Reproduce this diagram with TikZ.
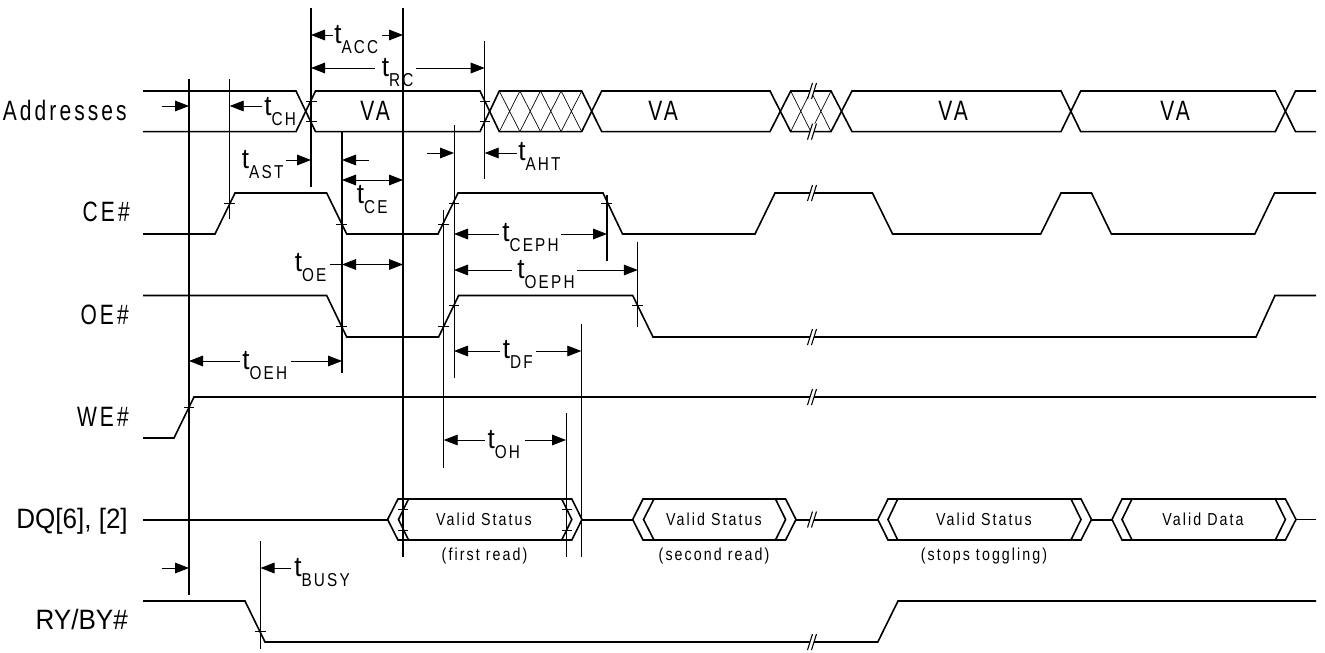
\documentclass[tikz,border=0pt]{standalone}
\usepackage{fontspec}
\usepackage{tikz}
\usetikzlibrary{arrows.meta}
\setmainfont{Liberation Sans}
\newfontfamily\sigfont[LetterSpace=11,FakeStretch=0.75]{Liberation Sans}
\newfontfamily\subfont[LetterSpace=12,FakeStretch=0.82]{Liberation Sans}
\newfontfamily\tightfont[FakeStretch=0.93]{Liberation Sans}
\newcommand{\tname}[1]{{\tightfont\fontsize{21}{23}\selectfont t}\raisebox{-7.5pt}{\subfont\fontsize{14}{15}\selectfont #1}}
\newcommand{\sigbreak}[2]{%
  \fill[white] (#1-3.5,#2+8) -- (#1+1.5,#2-8) -- (#1+5.5,#2-8) -- (#1+0.5,#2+8) -- cycle;
  \draw[thinline] (#1-3.5,#2+8) -- (#1+1.5,#2-8) (#1+0.5,#2+8) -- (#1+5.5,#2-8);}
\tikzset{
  wave/.style={line width=1.2pt,line join=miter},
  hatch/.style={line width=0.5pt},
  thinline/.style={line width=0.8pt},
  midline/.style={line width=1pt},
  heavyline/.style={line width=1.5pt},
  tickmark/.style={line width=0.5pt},
  stub/.style={line width=0.65pt,-{Triangle[length=10.5pt,width=8pt]}},
  timing/.style={anchor=base west,inner sep=0pt},
  signal/.style={anchor=base east,inner sep=0pt,font=\sigfont\fontsize{21}{23}\selectfont},
  busname/.style={anchor=base east,inner sep=0pt,font=\tightfont\fontsize{21}{23}\selectfont},
  datatext/.style={anchor=base,inner sep=0pt,font=\subfont\fontsize{13}{15}\selectfont},
  notetext/.style={anchor=base,inner sep=0pt,font=\subfont\fontsize{13}{14}\selectfont},
  buslabel/.style={anchor=base west,inner sep=0pt,font=\sigfont\fontsize{21}{23}\selectfont},
}
\begin{document}
\begin{tikzpicture}[x=0.75pt,y=0.75pt,yscale=-1,xscale=1]
\path[use as bounding box] (0,0) rectangle (1325,653);

%Addresses bus
\draw[wave] (143,91) -- (296,91) -- (315.5,131.6) -- (480,131.6) -- (499.3,91) -- (581.7,91) -- (601.7,131.6) -- (770,131.6) -- (790.7,91) -- (831,91) -- (852,131.6) -- (1061,131.6) -- (1080.7,91) -- (1275.3,91) -- (1295.5,131.6) -- (1316,131.6);
\draw[wave] (143,131.6) -- (296,131.6) -- (315.5,91) -- (480,91) -- (499.3,131.6) -- (581.7,131.6) -- (601.7,91) -- (770,91) -- (790.7,131.6) -- (831,131.6) -- (852,91) -- (1061,91) -- (1080.7,131.6) -- (1275.3,131.6) -- (1295.5,91) -- (1316,91);
\foreach \x in {499.3,519.9,540.5,561.1}
  \draw[hatch] (\x,91) -- (\x+20.6,131.6) (\x,131.6) -- (\x+20.6,91);
\foreach \x in {790.7,810.85}
  \draw[hatch] (\x,91) -- (\x+20.15,131.6) (\x,131.6) -- (\x+20.15,91);

%CE#
\draw[wave] (143,234) -- (215,234) -- (235,193) -- (326.7,193) -- (346.7,234) -- (438,234) -- (458,193) -- (603,193) -- (622.5,234) -- (755,234) -- (775,193) -- (872.4,193) -- (892.6,234) -- (1040.7,234) -- (1061,193) -- (1091.5,193) -- (1111.4,234) -- (1254.8,234) -- (1274.6,193) -- (1316,193);
%OE#
\draw[wave] (143,295.5) -- (326.7,295.5) -- (346.7,337) -- (438.6,337) -- (458.6,295.5) -- (632.7,295.5) -- (653,337) -- (1256,337) -- (1275,295.5) -- (1316,295.5);
%WE#
\draw[wave] (143,438) -- (174,438) -- (194,397) -- (1316,397);
%DQ[6], [2]
\draw[heavyline] (143,519.5) -- (387.6,519.5) (582,519.5) -- (632.7,519.5) (796,519.5) -- (877.8,519.5) (1091.5,519.5) -- (1112,519.5);
\draw[wave] (1296,519.5) -- (1316,519.5);
\draw[wave] (387.6,519.5) -- (398,499) -- (571.8,499) -- (582,519.5) (632.7,519.5) -- (643,499) -- (785.6,499) -- (796,519.5) (877.8,519.5) -- (888,499) -- (1081,499) -- (1091.5,519.5) (1112,519.5) -- (1122,499) -- (1285.4,499) -- (1296,519.5);
\draw[wave] (387.6,519.5) -- (398,540) -- (571.8,540) -- (582,519.5) (632.7,519.5) -- (643,540) -- (785.6,540) -- (796,519.5) (877.8,519.5) -- (888,540) -- (1081,540) -- (1091.5,519.5) (1112,519.5) -- (1122,540) -- (1285.4,540) -- (1296,519.5);
\draw[wave] (408.5,499) -- (398.5,519.5) -- (408.5,540) (561.7,499) -- (571.8,519.5) -- (561.7,540);
\draw[wave] (654,499) -- (643.5,519.5) -- (654,540) (775.5,499) -- (785.6,519.5) -- (775.5,540);
\draw[wave] (897.7,499) -- (888,519.5) -- (897.7,540) (1071,499) -- (1081,519.5) -- (1071,540);
\draw[wave] (1132,499) -- (1122,519.5) -- (1132,540) (1275.3,499) -- (1285.4,519.5) -- (1275.3,540);
%RY/BY#
\draw[wave] (143,601) -- (245,601) -- (265,642) -- (877.8,642) -- (898,601) -- (1316,601);

%Breaks
\sigbreak{811}{91}
\sigbreak{811}{131.6}
\sigbreak{811}{193}
\sigbreak{811}{337}
\sigbreak{811}{397}
\sigbreak{811}{519.5}
\sigbreak{811}{642}

%Reference lines
\draw[heavyline] (189,79) -- (189,595);
\draw[thinline] (229.7,79) -- (229.7,219);
\draw[midline] (311,8) -- (311,187);
\draw[heavyline] (403,8) -- (403,556.7);
\draw[thinline] (484.7,41) -- (484.7,179);
\draw[thinline] (454.4,125) -- (454.4,378);
\draw[heavyline] (342,132) -- (342,373);
\draw[thinline] (443.7,210) -- (443.7,467.7);
\draw[heavyline] (607,195) -- (607,260.7);
\draw[thinline] (637.8,242) -- (637.8,327);
\draw[thinline] (581.3,324) -- (581.3,556.7);
\draw[thinline] (566.4,413) -- (566.4,556.7);
\draw[thinline] (260.5,541) -- (260.5,649);

%Crossing ticks
\draw[tickmark] (306,101) -- (317,101) (306,121) -- (317,121) (480,101) -- (490,101) (480,121) -- (490,121);
\draw[tickmark] (224,203) -- (235,203) (336,224) -- (347,224) (438,224) -- (449,224) (449,203) -- (459,203) (601,203) -- (612,203);
\draw[tickmark] (336,326) -- (347,326) (438,326) -- (449,326) (449,305.5) -- (459,305.5) (632,305.5) -- (643,305.5) (184,407) -- (194,407);
\draw[tickmark] (398,509) -- (408,509) (398,530) -- (408,530) (562,509) -- (572,509) (562,530) -- (572,530) (255,631.5) -- (266,631.5);

%Timing arrows
\draw[stub] (162,106) -- (189,106);
\draw[stub] (262,106) -- (229.7,106);
\draw[stub] (333,35) -- (311,35);
\draw[stub] (382,35) -- (403,35);
\draw[stub] (375,68) -- (311,68);
\draw[stub] (416,68) -- (484.7,68);
\draw[stub] (286,160) -- (311,160);
\draw[stub] (369,160) -- (342,160);
\draw[stub] (427,153) -- (454,153);
\draw[stub] (517,153) -- (484.7,153);
\draw[stub] (372,180) -- (342,180);
\draw[stub] (372,180) -- (403,180);
\draw[thinline] (330,264.5) -- (342,264.5);
\draw[stub] (372,264.5) -- (342,264.5);
\draw[stub] (372,264.5) -- (403,264.5);
\draw[stub] (498.5,234) -- (454,234);
\draw[stub] (561,234) -- (607,234);
\draw[stub] (512,270) -- (454,270);
\draw[stub] (577,270) -- (637.8,270);
\draw[stub] (500,351) -- (454,351);
\draw[stub] (535.7,351) -- (581.3,351);
\draw[stub] (240,361) -- (189,361);
\draw[stub] (291,361) -- (342,361);
\draw[stub] (485,440) -- (443.7,440);
\draw[stub] (525,440) -- (566,440);
\draw[stub] (162,568) -- (189,568);
\draw[stub] (291,568) -- (260.5,568);

% Timing labels
\node[timing] (tACC) at (334,43) {\tname{ACC}};
\node[timing] (tRC) at (381.7,76) {\tname{RC}};
\node[timing] (tCH) at (264,115) {\tname{CH}};
\node[timing] (tAST) at (241.7,168) {\tname{AST}};
\node[timing] (tCE) at (356.7,203) {\tname{CE}};
\node[timing] (tAHT) at (518,160) {\tname{AHT}};
\node[timing] (tOE) at (294.6,271.7) {\tname{OE}};
\node[timing] (tCEPH) at (502,241.7) {\tname{CEPH}};
\node[timing] (tOEPH) at (517,278) {\tname{OEPH}};
\node[timing] (tDF) at (502.5,358) {\tname{DF}};
\node[timing] (tOEH) at (242,369) {\tname{OEH}};
\node[timing] (tOH) at (487.3,448) {\tname{OH}};
\node[timing] (tBUSY) at (294,576) {\tname{BUSY}};

% Signal names
\node[signal] (addr) at (127,120) {Addresses};
\node[signal] (ce) at (130,221.7) {CE\#};
\node[signal] (oe) at (129,324) {OE\#};
\node[signal] (we) at (129,426) {WE\#};
\node[busname] (dq) at (128,528) {DQ[6], [2]};
\node[busname] (ry) at (128,629) {RY/BY\#};

% Bus values
\node[buslabel] (va1) at (360,120) {VA};
\node[buslabel] (va2) at (648,120) {VA};
\node[buslabel] (va3) at (938,120) {VA};
\node[buslabel] (va4) at (1160,120) {VA};
\node[datatext] (vs1) at (484,525) {Valid Status};
\node[datatext] (vs2) at (714,525) {Valid Status};
\node[datatext] (vs3) at (984,525) {Valid Status};
\node[datatext] (vd) at (1203,525) {Valid Data};
\node[notetext] (n1) at (484.5,560.7) {(first read)};
\node[notetext] (n2) at (714,560.7) {(second read)};
\node[notetext] (n3) at (984,560.7) {(stops toggling)};

\end{tikzpicture}
\end{document}
